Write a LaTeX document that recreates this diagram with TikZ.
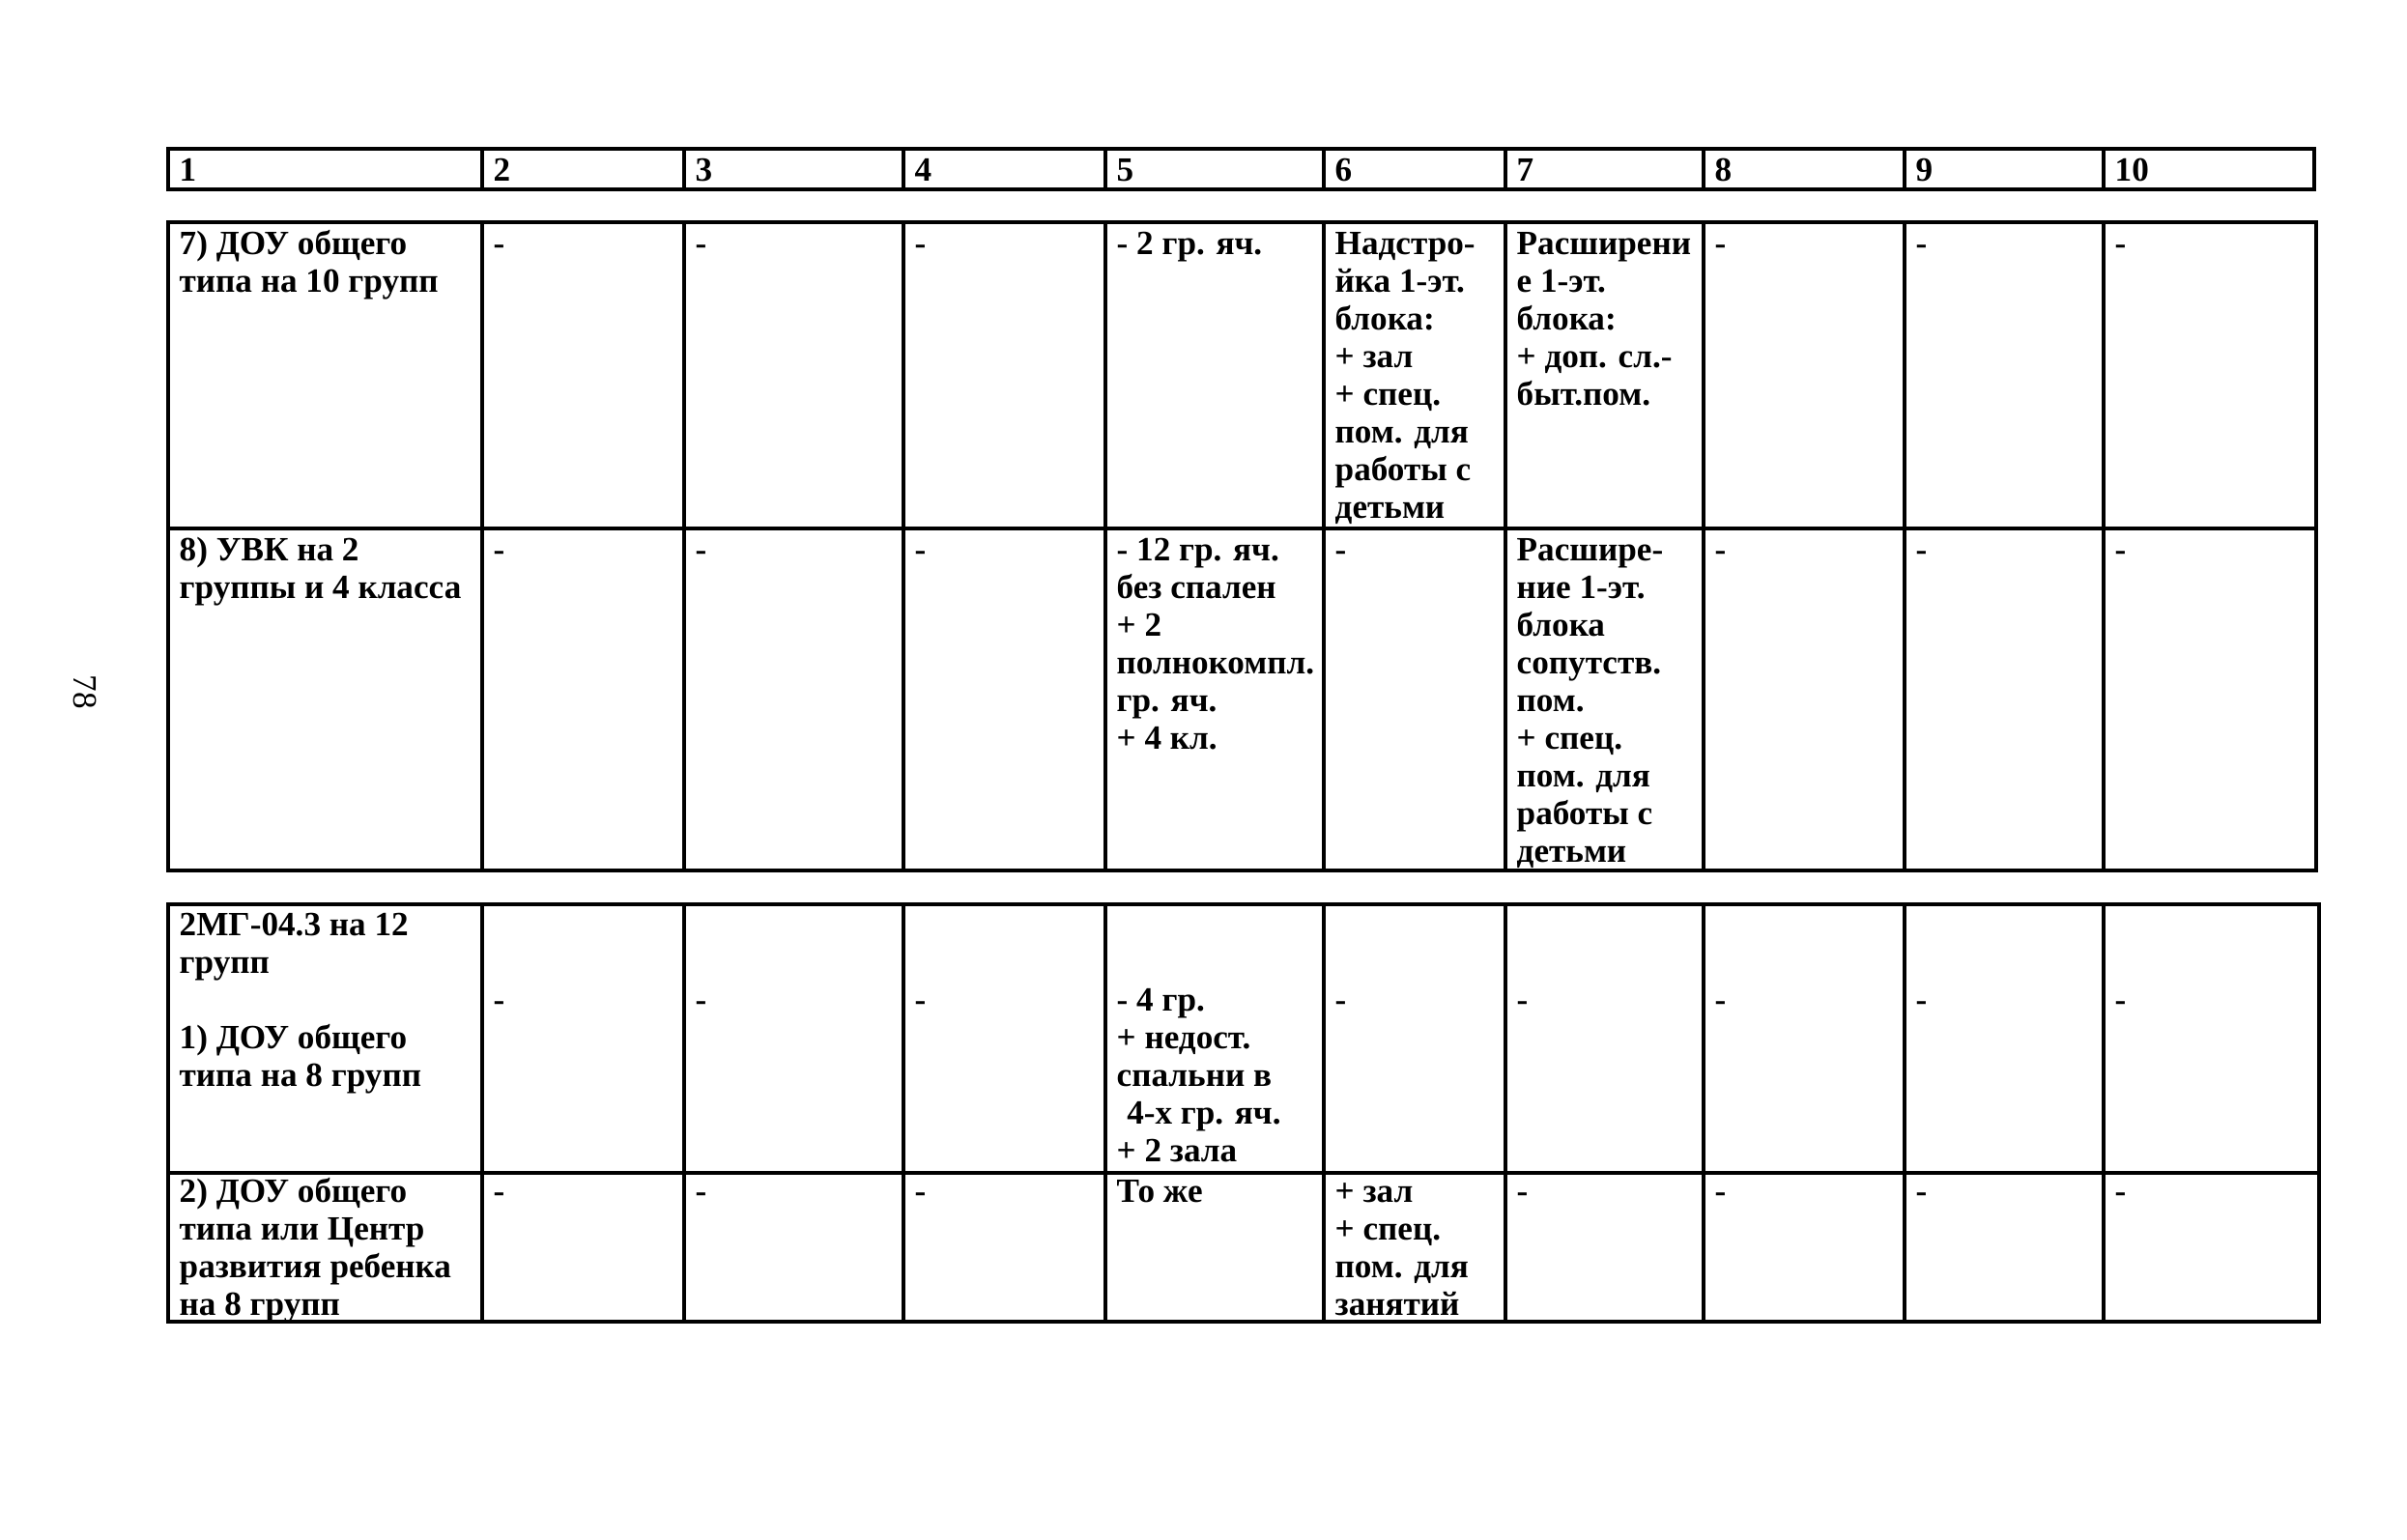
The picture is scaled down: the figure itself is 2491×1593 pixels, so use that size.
\documentclass[tikz,border=0pt]{standalone}
\usepackage{fontspec}
\setmainfont{Liberation Serif}
\newcommand{\cellfont}{\fontsize{10}{11.1}\selectfont\bfseries}
\tikzstyle{rule} = [line width=1pt, black]
\tikzstyle{cell} = [anchor=north west, inner sep=0pt, align=left, font=\cellfont]
\tikzstyle{pagenum} = [inner sep=0pt, font=\fontsize{10}{12}\selectfont, rotate=-90]

\begin{document}
\begin{tikzpicture}[x=0.01cm, y=-0.01cm]
  \useasboundingbox (0,0) rectangle (2491,1593);
  % Page number
  \node[pagenum] (pnum) at (88,716) {78};
  % Column numbers
  \draw[rule] (174,154) rectangle (2395,196);
  \foreach \x in {499,708,935,1144,1370,1558,1763,1971,2177}
    \draw[rule] (\x,154) -- (\x,196);
  \foreach \n/\x in {1/174,2/499,3/708,4/935,5/1144,6/1370,7/1558,8/1763,9/1971,10/2177}
    \node[cell] (head\n) at (\x+11,159) {\strut\n};

  % First block: rows 7) and 8)
  \draw[rule] (174,230) rectangle (2397,901);
  \draw[rule] (174,547) -- (2397,547);
  \foreach \x in {499,708,935,1144,1370,1558,1763,1971,2177}
    \draw[rule] (\x,230) -- (\x,901);
  \node[cell] (r7c1) at (185,235) {\strut 7) ДОУ общего\\типа на 10 групп};
  \foreach \n/\x in {2/499,3/708,4/935,8/1763,9/1971,10/2177}
    \node[cell] (r7c\n) at (\x+11,235) {\strut -};
  \node[cell] (r7c5) at (1155,235) {\strut - 2 гр. яч.};
  \node[cell] (r7c6) at (1381,235) {\strut Надстро-\\йка 1-эт.\\блока:\\+ зал\\+ спец.\\пом. для\\работы с\\детьми};
  \node[cell] (r7c7) at (1569,235) {\strut Расширени\\е 1-эт.\\блока:\\+ доп. сл.-\\быт.пом.};

  \node[cell] (r8c1) at (185,552) {\strut 8) УВК на 2\\группы и 4 класса};
  \foreach \n/\x in {2/499,3/708,4/935,6/1370,8/1763,9/1971,10/2177}
    \node[cell] (r8c\n) at (\x+11,552) {\strut -};
  \node[cell] (r8c5) at (1155,552) {\strut - 12 гр. яч.\\без спален\\+ 2\\полнокомпл.\\гр. яч.\\+ 4 кл.};
  \node[cell] (r8c7) at (1569,552) {\strut Расшире-\\ние 1-эт.\\блока\\сопутств.\\пом.\\+ спец.\\пом. для\\работы с\\детьми};

  % Second block: 2МГ-04.3
  \draw[rule] (174,936) rectangle (2400,1368);
  \draw[rule] (174,1214) -- (2400,1214);
  \foreach \x in {499,708,935,1144,1370,1558,1763,1971,2177}
    \draw[rule] (\x,936) -- (\x,1368);
  \node[cell] (r1c1) at (185,940) {\strut 2МГ-04.3 на 12\\групп\\ \\1) ДОУ общего\\типа на 8 групп};
  \foreach \n/\x in {2/499,3/708,4/935,6/1370,7/1558,8/1763,9/1971,10/2177}
    \node[cell] (r1c\n) at (\x+11,1018) {\strut -};
  \node[cell] (r1c5) at (1155,1018) {\strut - 4 гр.\\+ недост.\\спальни в\\\hspace{0.3em}4-х гр. яч.\\+ 2 зала};

  \node[cell] (r2c1) at (185,1216) {\strut 2) ДОУ общего\\типа или Центр\\развития ребенка\\на 8 групп};
  \foreach \n/\x in {2/499,3/708,4/935,7/1558,8/1763,9/1971,10/2177}
    \node[cell] (r2c\n) at (\x+11,1216) {\strut -};
  \node[cell] (r2c5) at (1155,1216) {\strut То же};
  \node[cell] (r2c6) at (1381,1216) {\strut + зал\\+ спец.\\пом. для\\занятий};
\end{tikzpicture}
\end{document}
